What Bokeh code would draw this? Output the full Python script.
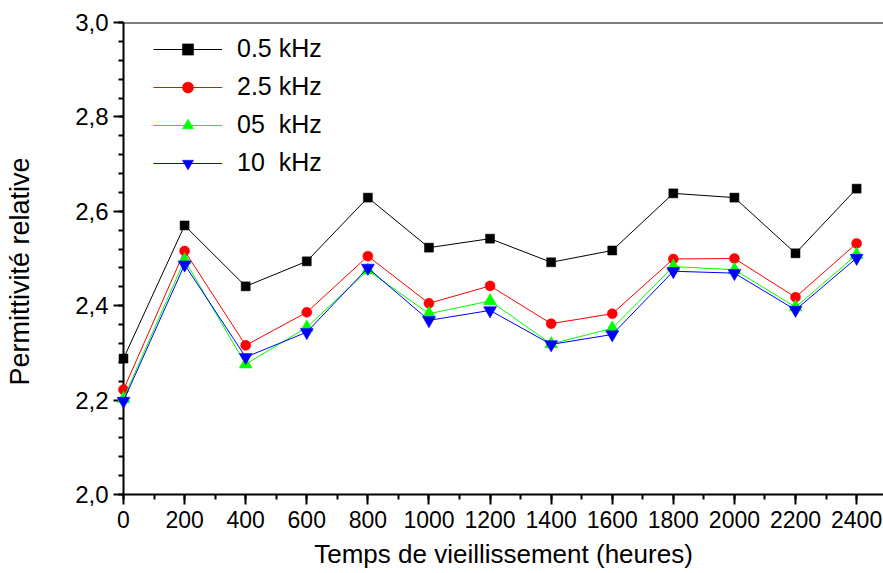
from bokeh.plotting import figure
from bokeh.models import (Range1d, FixedTicker, CustomJSTickFormatter, Legend,
                          LegendItem, Span, Title)
from bokeh.embed import file_html
from bokeh.resources import INLINE

# Ageing time (hours) and relative permittivity at four frequencies
temps = [0, 200, 400, 600, 800, 1000, 1200, 1400, 1600, 1800, 2000, 2200, 2400]
eps_0_5khz = [2.288, 2.570, 2.441, 2.494, 2.629, 2.523, 2.542, 2.492, 2.517, 2.638, 2.629, 2.511, 2.648]
eps_2_5khz = [2.222, 2.516, 2.316, 2.386, 2.505, 2.405, 2.442, 2.362, 2.383, 2.499, 2.500, 2.418, 2.532]
eps_05khz = [2.203, 2.497, 2.276, 2.354, 2.475, 2.383, 2.410, 2.319, 2.352, 2.483, 2.476, 2.397, 2.508]
eps_10khz = [2.198, 2.487, 2.291, 2.344, 2.480, 2.369, 2.390, 2.318, 2.339, 2.473, 2.469, 2.391, 2.501]

x_ticks = list(range(0, 2401, 200))
y_ticks = [2.0, 2.2, 2.4, 2.6, 2.8, 3.0]

x_title = "Temps de vieillissement (heures)"
y_title = "Permittivité relative"

FONT = "Liberation Sans"

p = figure(frame_width=760, frame_height=472,
           min_border_left=123, min_border_right=0,
           min_border_top=22, min_border_bottom=79,
           x_range=Range1d(0, 2488), y_range=Range1d(2.0, 3.0),
           output_backend="svg", toolbar_location=None,
           background_fill_color="white", border_fill_color="white")
p.outline_line_color = None
p.xgrid.visible = False
p.ygrid.visible = False

# top frame line
p.add_layout(Span(location=3.0, dimension="width", line_color="black", line_width=2))

# axes
p.xaxis.ticker = FixedTicker(ticks=x_ticks, minor_ticks=list(range(0, 2501, 100)))
p.yaxis.ticker = FixedTicker(ticks=y_ticks, minor_ticks=[round(2.0 + 0.04 * i, 2) for i in range(26)])
p.yaxis.formatter = CustomJSTickFormatter(code="return tick.toFixed(1).replace('.', ',');")

for ax in (p.xaxis[0], p.yaxis[0]):
    ax.axis_line_width = 2
    ax.axis_line_color = "black"
    ax.major_tick_line_width = 2
    ax.minor_tick_line_width = 2
    ax.major_tick_line_color = "black"
    ax.minor_tick_line_color = "black"
    ax.major_tick_in = 0
    ax.major_tick_out = 10
    ax.minor_tick_in = 0
    ax.minor_tick_out = 5
    ax.major_label_text_font = FONT
    ax.major_label_text_color = "black"

p.xaxis.major_label_text_font_size = "23px"
p.yaxis.major_label_text_font_size = "24px"
p.xaxis.major_label_standoff = 6
p.yaxis.major_label_standoff = 5

p.xaxis.axis_label = x_title
p.xaxis.axis_label_text_font = FONT
p.xaxis.axis_label_text_font_size = "26px"
p.xaxis.axis_label_text_font_style = "normal"
p.xaxis.axis_label_text_color = "black"
p.xaxis.axis_label_standoff = 8

# blank spacer label widens the y-axis panel so the vertical title sits further left
p.yaxis.axis_label = " "
p.yaxis.axis_label_text_font_size = "1px"
p.yaxis.axis_label_standoff = 32

# vertical title, anchored from the bottom of the frame
p.add_layout(Title(text=y_title, align="left", offset=109, standoff=4,
                   text_font=FONT, text_font_size="27px", text_font_style="normal",
                   text_color="black"), "left")

series = [
    ("0.5 kHz", eps_0_5khz, "black", "square", 9),
    ("2.5 kHz", eps_2_5khz, "#ff0000", "circle", 10),
    ("05  kHz", eps_05khz, "#00ff00", "triangle", 13),
    ("10  kHz", eps_10khz, "#0000ff", "inverted_triangle", 13),
]

items = []
for label, vals, color, marker, size in series:
    ln = p.line(temps, vals, line_color=color, line_width=1, level="overlay")
    sc = p.scatter(temps, vals, marker=marker, size=size, fill_color=color,
                   line_color=color, line_width=0.5, level="overlay")
    items.append(LegendItem(label=label, renderers=[ln, sc]))

legend = Legend(items=items, location=(30, 317), margin=0, padding=0,
                spacing=9, glyph_width=69, glyph_height=28, label_height=28,
                label_standoff=15, label_text_font=FONT, label_text_font_size="25px",
                label_text_color="black", border_line_color=None,
                background_fill_alpha=0)
p.add_layout(legend)

open("out.html", "w").write(file_html(p, INLINE))
